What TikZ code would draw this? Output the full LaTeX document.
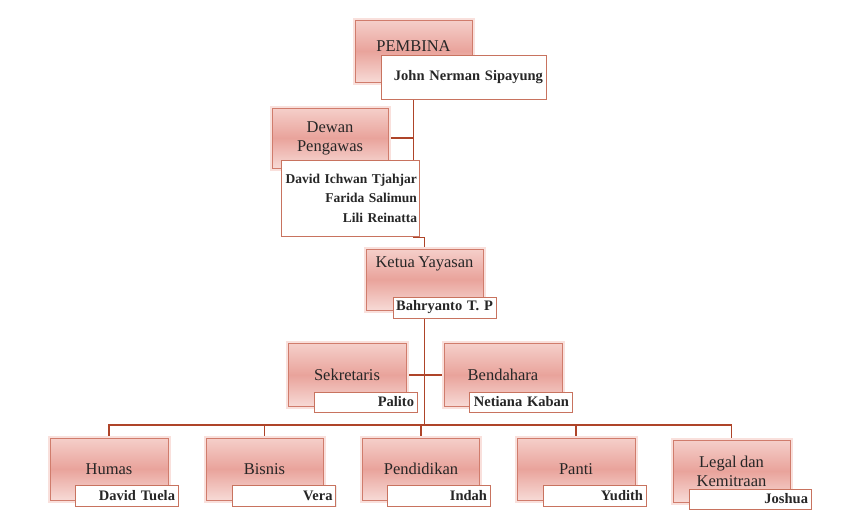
\documentclass[tikz,border=0pt]{standalone}
\usepackage{fontspec}
\setmainfont{Liberation Serif}[WordSpace=0.8]
\usetikzlibrary{positioning,calc,backgrounds,shadows}
\hyphenpenalty=10000
\definecolor{orgInk}{HTML}{262626}
\definecolor{orgLine}{HTML}{AE4429}
\definecolor{orgEdge}{HTML}{D07C6C}
\definecolor{orgTop}{HTML}{F5CFCA}
\definecolor{orgMid}{HTML}{E9A39B}
\definecolor{orgBot}{HTML}{F7DAD6}
\definecolor{orgGlow}{HTML}{F9E0DC}
\definecolor{orgTag}{HTML}{C8735F}
\tikzset{
    role/.style={draw=orgEdge, line width=1pt, minimum width=117pt, minimum height=62pt, align=center, top color=orgTop, bottom color=orgBot, middle color=orgMid, text=orgInk, font=\fontsize{16.5}{19}\selectfont, preaction={draw=orgGlow, line width=5pt}},
    tag/.style={draw=orgTag, line width=0.8pt, fill=white, text=orgInk, font=\fontsize{14.5}{19}\selectfont\bfseries\frenchspacing, minimum height=21pt, inner xsep=3pt, inner ysep=0pt, text width=97pt, align=right, drop shadow={shadow xshift=1pt, shadow yshift=-1pt, opacity=0.15}},
    link/.style={draw=orgLine, line width=1.9pt}
}
\begin{document}
\begin{tikzpicture}[x=1pt, y=-1pt]
\useasboundingbox (0,0) rectangle (849,522);
% top of the chart
\node[role, text depth=10pt] (pembina) at (413.5,51) {PEMBINA};
\node[tag, text width=159pt, minimum height=44pt] (pembinaName) at (463.5,77) {John Nerman Sipayung};
\node[role, minimum width=116pt, minimum height=60pt] (dewan) at (330,138) {Dewan\\Pengawas};
\node[tag, text width=134pt, inner xsep=2pt, minimum height=76pt, font=\fontsize{13.5}{19.5}\selectfont\bfseries] (dewanName) at (350,198) {David Ichwan Tjahjar\\Farida Salimun\\Lili Reinatta};
\node[role, minimum height=61pt, text depth=35pt] (ketua) at (424.5,279.5) {Ketua Yayasan};
\node[tag] (ketuaName) at (444.5,307.5) {Bahryanto T. P};
% sekretaris and bendahara
\node[role, minimum width=118pt, minimum height=63pt] (sekretaris) at (347,375) {Sekretaris};
\node[tag, minimum height=20pt] (sekretarisName) at (365.5,402) {Palito};
\node[role, minimum width=118pt, minimum height=63pt] (bendahara) at (503,375) {Bendahara};
\node[tag, minimum height=20pt] (bendaharaName) at (520.5,402) {Netiana Kaban};
% divisions
\node[role, minimum width=118pt] (humas) at (109,469) {Humas};
\node[tag] (humasName) at (126.5,495.5) {David Tuela};
\node[role] (bisnis) at (264.5,469) {Bisnis};
\node[tag] (bisnisName) at (284,495.5) {Vera};
\node[role] (pendidikan) at (421,469) {Pendidikan};
\node[tag] (pendidikanName) at (438.5,495.5) {Indah};
\node[role, minimum width=118pt] (panti) at (576,469) {Panti};
\node[tag] (pantiName) at (594.5,495.5) {Yudith};
\node[role] (legal) at (731.5,471) {Legal dan\\Kemitraan};
\node[tag, text width=116pt, minimum height=20pt] (legalName) at (750,499) {Joshua};
\coordinate (bus) at (424.5,425);
% connectors
\begin{scope}[on background layer]
\draw[link] (pembina.south) |- ([yshift=11pt]ketua.north) -- (ketua.north);
\draw[link] (dewan.east) -- (dewan.east -| pembina.south);
\draw[link] (ketua.south) -- (bus);
\draw[link] (sekretaris.east) -- (bendahara.west);
\draw[link] (humas.north) |- (bus) -| (legal.north);
\foreach \n in {bisnis,pendidikan,panti}
  \draw[link] (\n.north) -- (\n.north |- bus);
\end{scope}
\end{tikzpicture}
\end{document}
